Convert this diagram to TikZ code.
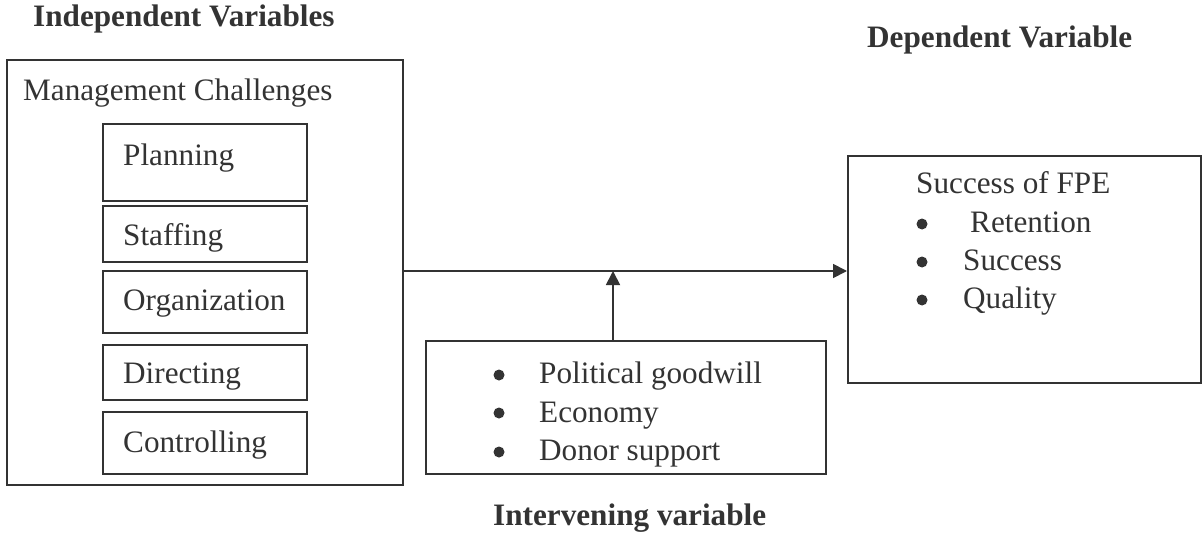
\documentclass[tikz,border=0pt]{standalone}
\usepackage{fontspec}
\setmainfont{Liberation Serif}
\usetikzlibrary{arrows.meta}
\definecolor{ink}{HTML}{333333}
\begin{document}
\begin{tikzpicture}[x=1pt,y=-1pt,
  frame/.style={draw=ink, line width=1.8pt, inner sep=0pt, anchor=north west},
  txt/.style={text=ink, inner sep=0pt, anchor=base west, font=\fontsize{31.2}{36}\selectfont},
  head/.style={text=ink, inner sep=0pt, anchor=base west, font=\fontsize{31.2}{36}\selectfont\bfseries},
  dot/.style={circle, fill=ink, inner sep=0pt, minimum size=11pt},
  arr/.style={draw=ink, line width=1.8pt, -{Triangle[length=14pt,width=14pt]}}]
\useasboundingbox (0,0) rectangle (1202,535);
% headings
\node[head] (hind) at (33,27) {Independent Variables};
\node[head] (hdep) at (867,48) {Dependent Variable};
\node[head] (hint) at (493,525) {Intervening variable};
% outer box
\node[frame, minimum width=396pt, minimum height=425pt] (outer) at (6,59) {};
\node[txt] (mc) at (23,100) {Management Challenges};
% inner boxes
\node[frame, minimum width=204pt, minimum height=77pt] (bplan) at (102,123) {};
\node[txt] (tplan) at (123,165) {Planning};
\node[frame, minimum width=204pt, minimum height=56pt] (bstaff) at (102,205) {};
\node[txt] (tstaff) at (123,245) {Staffing};
\node[frame, minimum width=204pt, minimum height=62pt] (borg) at (102,270) {};
\node[txt] (torg) at (123,310) {Organization};
\node[frame, minimum width=204pt, minimum height=55pt] (bdir) at (102,344) {};
\node[txt] (tdir) at (123,383) {Directing};
\node[frame, minimum width=204pt, minimum height=62pt] (bctl) at (102,411) {};
\node[txt] (tctl) at (123,452) {Controlling};
% intervening box
\node[frame, minimum width=400pt, minimum height=133pt] (interv) at (425,340) {};
\node[dot] (b1) at (499,375) {};
\node[txt] (i1) at (539,383) {Political goodwill};
\node[dot] (b2) at (499,413) {};
\node[txt] (i2) at (539,422) {Economy};
\node[dot] (b3) at (499,452) {};
\node[txt] (i3) at (539,460) {Donor support};
% dependent box
\node[frame, minimum width=353pt, minimum height=227pt] (dep) at (847,155) {};
\node[txt] (d0) at (916,193) {Success of FPE};
\node[dot] (db1) at (922,224) {};
\node[txt] (d1) at (970,232) {Retention};
\node[dot] (db2) at (922,262) {};
\node[txt] (d2) at (963,270) {Success};
\node[dot] (db3) at (922,300) {};
\node[txt] (d3) at (963,308) {Quality};
% connectors
\coordinate (j) at (613,271);
\draw[arr] (outer.east |- j) -- (dep.west |- j);
\draw[arr] (interv.north -| j) -- (j);
\end{tikzpicture}
\end{document}
